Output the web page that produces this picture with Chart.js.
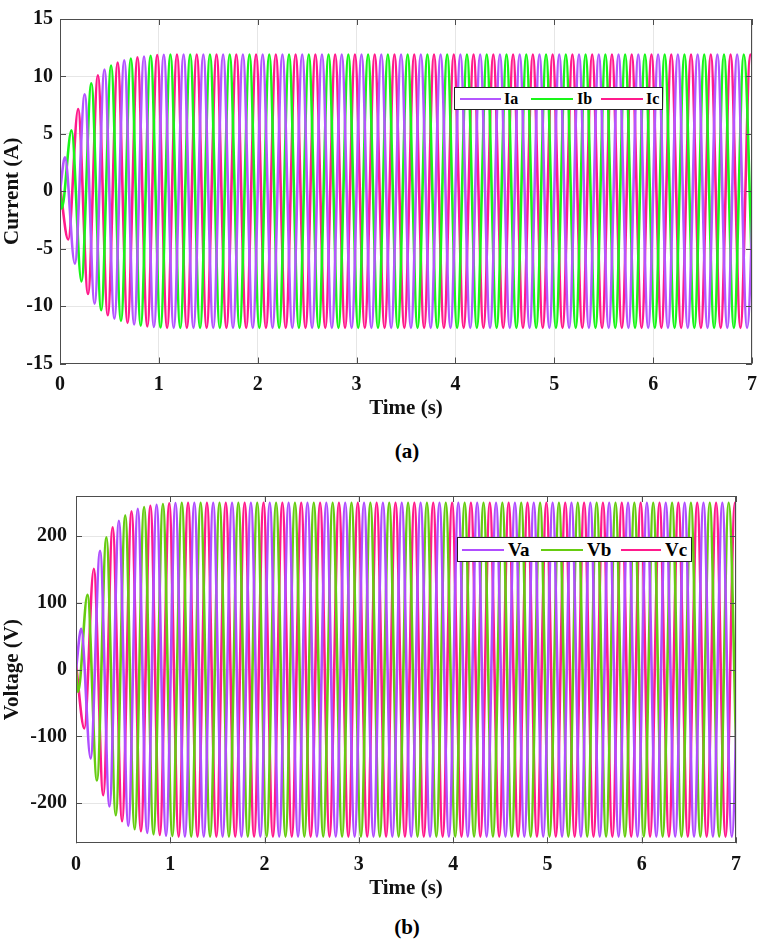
<!DOCTYPE html>
<html>
<head>
<meta charset="utf-8">
<title>Three-phase current and voltage</title>
<script src="https://cdn.jsdelivr.net/npm/chart.js@4.4.1/dist/chart.umd.min.js"></script>
<style>
  body { margin: 0; background: #fff; width: 766px; height: 945px; position: relative; overflow: hidden;
         font-family: 'Liberation Serif', 'Times New Roman', serif; font-weight: bold; color: #000; }
  .panel { position: absolute; left: 0; width: 766px; }
  .caption { position: absolute; left: 357px; width: 100px; text-align: center; font-size: 21px; }
  .legend { position: absolute; background: #fff; border: 1px solid #222; box-sizing: border-box; z-index: 2; }
  .legend .ln { position: absolute; height: 2px; top: 50%; margin-top: -1px; }
  .legend .tx { position: absolute; top: 0; }
</style>
</head>
<body>

<div class="panel" style="top:0; height:425px;"><canvas id="chartA"></canvas></div>
<div class="caption" style="top:439px;">(a)</div>
<div class="legend" style="left:454px; top:87px; width:209px; height:23px; font-size:16px; line-height:21px;">
  <span class="ln" style="left:5px; width:41px; background:#b456ff;"></span><span class="tx" style="left:49px;">Ia</span>
  <span class="ln" style="left:76px; width:42px; background:#19f519;"></span><span class="tx" style="left:122px;">Ib</span>
  <span class="ln" style="left:146px; width:42px; background:#ff1a8c;"></span><span class="tx" style="left:191px;">Ic</span>
</div>

<div class="panel" style="top:470px; height:440px;"><canvas id="chartB"></canvas></div>
<div class="caption" style="top:915px;">(b)</div>
<div class="legend" style="left:457px; top:537px; width:235px; height:25px; font-size:19px; line-height:23px;">
  <span class="ln" style="left:4px; width:42px; background:#b04dff;"></span><span class="tx" style="left:50px;">Va</span>
  <span class="ln" style="left:83px; width:42px; background:#66cc11;"></span><span class="tx" style="left:129px;">Vb</span>
  <span class="ln" style="left:163px; width:40px; background:#ff1a8c;"></span><span class="tx" style="left:207px;">Vc</span>
</div>

<script>
// axis ticks
const timeTicks = [0, 1, 2, 3, 4, 5, 6, 7];
const currentTicks = [-15, -10, -5, 0, 5, 10, 15];
const voltageTicks = [-200, -100, 0, 100, 200];

// waveforms are stored as their successive peaks / troughs,
// one extremum every half period; the first one of each phase is at t0
const halfPeriod = 0.1;

// (a) phase currents, A
const iaStart = 0, iaT0 = 0.05;
const ia = [
  2.95, -6.3, 8.45, -9.8, 10.6, -11.1, 11.4, -11.6, 11.74, -11.82, 11.88,
  -11.9, 11.9, -11.9, 11.9, -11.9, 11.9, -11.9, 11.9, -11.9, 11.9,
  -11.9, 11.9, -11.9, 11.9, -11.9, 11.9, -11.9, 11.9, -11.9, 11.9,
  -11.9, 11.9, -11.9, 11.9, -11.9, 11.9, -11.9, 11.9, -11.9, 11.9,
  -11.9, 11.9, -11.9, 11.9, -11.9, 11.9, -11.9, 11.9, -11.9, 11.9,
  -11.9, 11.9, -11.9, 11.9, -11.9, 11.9, -11.9, 11.9, -11.9, 11.9,
  -11.9, 11.9, -11.9, 11.9, -11.9, 11.9, -11.9, 11.9, -11.9, 11.9
];
const ibStart = 0, ibT0 = 0.0167;
const ib = [
  -1.5, 5.3, -7.85, 9.4, -10.35, 10.95, -11.3, 11.55, -11.7, 11.8, -11.87,
  11.9, -11.9, 11.9, -11.9, 11.9, -11.9, 11.9, -11.9, 11.9, -11.9,
  11.9, -11.9, 11.9, -11.9, 11.9, -11.9, 11.9, -11.9, 11.9, -11.9,
  11.9, -11.9, 11.9, -11.9, 11.9, -11.9, 11.9, -11.9, 11.9, -11.9,
  11.9, -11.9, 11.9, -11.9, 11.9, -11.9, 11.9, -11.9, 11.9, -11.9,
  11.9, -11.9, 11.9, -11.9, 11.9, -11.9, 11.9, -11.9, 11.9, -11.9,
  11.9, -11.9, 11.9, -11.9, 11.9, -11.9, 11.9, -11.9, 11.9, -11.9
];
const icStart = 0.4, icT0 = 0.0833;
const ic = [
  -4.2, 7.15, -8.95, 10.1, -10.8, 11.2, -11.47, 11.66, -11.77, 11.85,
  -11.9, 11.9, -11.9, 11.9, -11.9, 11.9, -11.9, 11.9, -11.9, 11.9,
  -11.9, 11.9, -11.9, 11.9, -11.9, 11.9, -11.9, 11.9, -11.9, 11.9,
  -11.9, 11.9, -11.9, 11.9, -11.9, 11.9, -11.9, 11.9, -11.9, 11.9,
  -11.9, 11.9, -11.9, 11.9, -11.9, 11.9, -11.9, 11.9, -11.9, 11.9,
  -11.9, 11.9, -11.9, 11.9, -11.9, 11.9, -11.9, 11.9, -11.9, 11.9,
  -11.9, 11.9, -11.9, 11.9, -11.9, 11.9, -11.9, 11.9, -11.9, 11.9,
  -11.9
];

// (b) phase voltages, V
const vaStart = 0, vaT0 = 0.055;
const va = [
  61, -133, 178, -205, 223, -234, 241, -244.5, 247, -248.5, 249.5,
  -250, 250, -250, 250, -250, 250, -250, 250, -250, 250,
  -250, 250, -250, 250, -250, 250, -250, 250, -250, 250,
  -250, 250, -250, 250, -250, 250, -250, 250, -250, 250,
  -250, 250, -250, 250, -250, 250, -250, 250, -250, 250,
  -250, 250, -250, 250, -250, 250, -250, 250, -250, 250,
  -250, 250, -250, 250, -250, 250, -250, 250, -250, 250
];
const vbStart = 0, vbT0 = 0.022;
const vb = [
  -33, 112, -166, 198, -218, 231, -239, 243.5, -246.5, 248, -249,
  250, -250, 250, -250, 250, -250, 250, -250, 250, -250,
  250, -250, 250, -250, 250, -250, 250, -250, 250, -250,
  250, -250, 250, -250, 250, -250, 250, -250, 250, -250,
  250, -250, 250, -250, 250, -250, 250, -250, 250, -250,
  250, -250, 250, -250, 250, -250, 250, -250, 250, -250,
  250, -250, 250, -250, 250, -250, 250, -250, 250, -250
];
const vcStart = 8, vcT0 = 0.0887;
const vc = [
  -88, 151, -188, 213, -227, 237, -242, 245.5, -247.5, 249,
  -250, 250, -250, 250, -250, 250, -250, 250, -250, 250,
  -250, 250, -250, 250, -250, 250, -250, 250, -250, 250,
  -250, 250, -250, 250, -250, 250, -250, 250, -250, 250,
  -250, 250, -250, 250, -250, 250, -250, 250, -250, 250,
  -250, 250, -250, 250, -250, 250, -250, 250, -250, 250,
  -250, 250, -250, 250, -250, 250, -250, 250, -250, 250,
  -250
];

function toPoints(start, t0, vals) {
  const pts = [{ x: 0, y: start }];
  vals.forEach((v, k) => pts.push({ x: t0 + halfPeriod * k, y: v }));
  return pts;
}

function line(label, pts, color) {
  return {
    label: label,
    data: pts,
    borderColor: color,
    borderWidth: 2.6,
    pointRadius: 0,
    cubicInterpolationMode: 'monotone',
    clip: 0
  };
}

// matlab style box with inward ticks on all four sides
const boxPlugin = {
  id: 'box',
  afterDatasetsDraw(chart) {
    const { ctx, chartArea: a, scales } = chart;
    ctx.save();
    ctx.strokeStyle = '#4d4d4d';
    ctx.lineWidth = 1;
    ctx.beginPath();
    scales.x.ticks.forEach((t, i) => {
      const px = Math.round(scales.x.getPixelForTick(i)) + 0.5;
      ctx.moveTo(px, a.bottom); ctx.lineTo(px, a.bottom - 6);
      ctx.moveTo(px, a.top); ctx.lineTo(px, a.top + 6);
    });
    scales.y.ticks.forEach((t, i) => {
      const py = Math.round(scales.y.getPixelForTick(i)) + 0.5;
      ctx.moveTo(a.left, py); ctx.lineTo(a.left + 6, py);
      ctx.moveTo(a.right, py); ctx.lineTo(a.right - 6, py);
    });
    ctx.stroke();
    ctx.strokeRect(Math.round(a.left) + 0.5, Math.round(a.top) + 0.5,
                   Math.round(a.width) - 1, Math.round(a.height) - 1);
    ctx.restore();
  }
};

function makeChart(id, datasets, o) {
  const tickFont = { family: 'Liberation Serif', size: 20, weight: 'bold' };
  const titleFont = { family: 'Liberation Serif', size: 21, weight: 'bold' };
  return new Chart(document.getElementById(id), {
    type: 'line',
    data: { datasets: datasets },
    options: {
      responsive: true,
      maintainAspectRatio: false,
      animation: false,
      events: [],
      layout: { padding: { top: o.padTop, right: o.padRight, left: 0, bottom: 0 } },
      plugins: { legend: { display: false }, tooltip: { enabled: false } },
      scales: {
        x: {
          type: 'linear',
          min: 0,
          max: 7,
          afterBuildTicks: s => { s.ticks = timeTicks.map(v => ({ value: v })); },
          afterFit: s => { s.height = o.xHeight; },
          grid: { color: '#e6e6e6', drawTicks: false },
          border: { display: false },
          ticks: { color: '#111', font: tickFont, padding: o.xPad, maxRotation: 0 },
          title: { display: true, text: 'Time (s)', color: '#111', font: titleFont, padding: { top: 0, bottom: o.xTitlePad } }
        },
        y: {
          min: o.yMin,
          max: o.yMax,
          afterBuildTicks: s => { s.ticks = o.yTicks.map(v => ({ value: v })); },
          afterFit: s => { s.width = o.yWidth; },
          grid: { color: '#e6e6e6', drawTicks: false },
          border: { display: false },
          ticks: { color: '#111', font: tickFont, padding: o.yPad },
          title: { display: true, text: o.yTitle, color: '#111', font: titleFont, padding: { top: 0, bottom: 0 } }
        }
      }
    },
    plugins: [boxPlugin]
  });
}

makeChart('chartA', [
  line('Ia', toPoints(iaStart, iaT0, ia), '#b456ff'),
  line('Ib', toPoints(ibStart, ibT0, ib), '#19f519'),
  line('Ic', toPoints(icStart, icT0, ic), '#ff1a8c')
], {
  padTop: 7, padRight: 8, xHeight: 61.5, xPad: 9, xTitlePad: 4,
  yMin: -15, yMax: 15, yTicks: currentTicks, yWidth: 60, yPad: 7, yTitle: 'Current (A)'
});

makeChart('chartB', [
  line('Va', toPoints(vaStart, vaT0, va), '#b04dff'),
  line('Vb', toPoints(vbStart, vbT0, vb), '#66cc11'),
  line('Vc', toPoints(vcStart, vcT0, vc), '#ff1a8c')
], {
  padTop: 26, padRight: 30, xHeight: 66.7, xPad: 10, xTitlePad: 9,
  yMin: -260, yMax: 260, yTicks: voltageTicks, yWidth: 76, yPad: 9, yTitle: 'Voltage (V)'
});
</script>
</body>
</html>
